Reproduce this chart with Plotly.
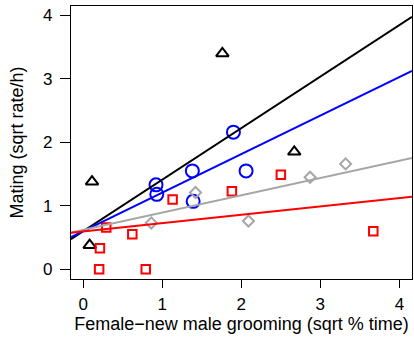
import plotly.graph_objects as go

# Data
tri_x = [1.76, 0.11, 2.67, 0.08]
tri_y = [3.40, 1.38, 1.85, 0.38]

circ_x = [0.92, 0.93, 1.38, 1.39, 1.90, 2.06]
circ_y = [1.33, 1.18, 1.55, 1.07, 2.16, 1.55]

diam_x = [0.86, 1.42, 2.09, 2.87, 3.32]
diam_y = [0.73, 1.21, 0.76, 1.45, 1.66]

sq_x = [0.29, 0.21, 0.20, 0.62, 0.79, 1.13, 1.88, 2.50, 3.67]
sq_y = [0.66, 0.33, 0.00, 0.55, 0.00, 1.10, 1.23, 1.49, 0.60]

# Regression lines (intercept, slope)
line_names = ["black", "blue", "gray", "red"]
line_intercepts = [0.60, 0.60, 0.62, 0.597]
line_slopes = [0.812, 0.607, 0.272, 0.131]
line_colors = ["black", "#0000ff", "#a6a6a6", "#ff0000"]

x_range = [-0.156, 4.16]
y_range = [-0.153, 4.147]
x_ticks = [0, 1, 2, 3, 4]
y_ticks = [0, 1, 2, 3, 4]

fig = go.Figure()

mk_line = 2
fig.add_trace(go.Scatter(x=tri_x, y=tri_y, mode="markers",
                         marker=dict(symbol="triangle-up-open", size=11, color="black",
                                     line=dict(width=mk_line, color="black"))))
fig.add_trace(go.Scatter(x=circ_x, y=circ_y, mode="markers",
                         marker=dict(symbol="circle-open", size=13, color="#0000ff",
                                     line=dict(width=mk_line, color="#0000ff"))))
fig.add_trace(go.Scatter(x=diam_x, y=diam_y, mode="markers",
                         marker=dict(symbol="diamond-open", size=8.5, color="#a6a6a6",
                                     line=dict(width=mk_line, color="#a6a6a6"))))
fig.add_trace(go.Scatter(x=sq_x, y=sq_y, mode="markers",
                         marker=dict(symbol="square-open", size=8.5, color="#ff0000",
                                     line=dict(width=mk_line, color="#ff0000"))))

for name, a, b, c in zip(line_names, line_intercepts, line_slopes, line_colors):
    xs = [x_range[0], x_range[1]]
    ys = [a + b * v for v in xs]
    fig.add_trace(go.Scatter(x=xs, y=ys, mode="lines", name=name,
                             line=dict(color=c, width=2)))

font = "Liberation Sans, Arial, Helvetica, sans-serif"
fig.update_layout(
    width=414, height=339,
    margin=dict(l=71, r=2, t=6, b=60),
    paper_bgcolor="white", plot_bgcolor="white",
    showlegend=False,
    font=dict(family=font, color="black", size=16),
    xaxis=dict(range=x_range, tickvals=x_ticks, ticks="outside", ticklen=8,
               tickwidth=1, tickcolor="black", showline=True, linecolor="black",
               linewidth=1.3, mirror=True, showgrid=False, zeroline=False,
               tickfont=dict(size=17), ticklabelstandoff=1,
               title=dict(text="Female\u2212new male grooming (sqrt % time)",
                          font=dict(size=18), standoff=4)),
    yaxis=dict(range=y_range, tickvals=y_ticks, ticks="outside", ticklen=10,
               tickwidth=1, tickcolor="black", showline=True, linecolor="black",
               linewidth=1.3, mirror=True, showgrid=False, zeroline=False,
               tickfont=dict(size=17), ticklabelstandoff=4,
               title=dict(text="Mating (sqrt rate/h)", font=dict(size=18), standoff=14)),
)

fig.write_html("out.html")
